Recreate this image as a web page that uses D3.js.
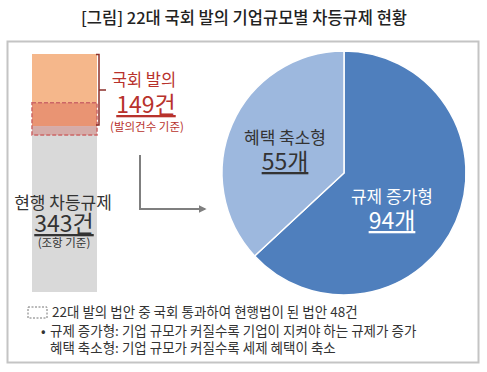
<!DOCTYPE html>
<html>
<head>
<meta charset="utf-8">
<script src="https://cdn.jsdelivr.net/npm/d3@7"></script>
<style>
  body { margin: 0; background: #fff; }
  text { font-family: "Noto Sans CJK KR", "Noto Sans", sans-serif; }
</style>
</head>
<body>
<script>
const m = { width: 487, height: 372 }

// data
const titleText = '[그림] 22대 국회 발의 기업규모별 차등규제 현황'
const barLabels = ['국회 발의', '현행 차등규제']
const barValues = [149, 343]
const barUnits = ['(발의건수 기준)', '(조항 기준)']
const passedValue = 48
const pieCategories = ['규제 증가형', '혜택 축소형']
const pieValues = [94, 55]
const notes = [
  '22대 발의 법안 중 국회 통과하여 현행법이 된 법안 48건',
  '규제 증가형: 기업 규모가 커질수록 기업이 지켜야 하는 규제가 증가',
  '혜택 축소형: 기업 규모가 커질수록 세제 혜택이 축소'
]

const svg = d3.select('body').append('svg')
  .attr('width', m.width)
  .attr('height', m.height)

// title
svg.append('text')
  .attr('x', 244).attr('y', 24)
  .attr('text-anchor', 'middle')
  .attr('font-size', 16.5)
  .attr('font-weight', 500)
  .attr('fill', '#222')
  .text(titleText)

// frame
svg.append('rect')
  .attr('x', 7.5).attr('y', 41.5)
  .attr('width', 471).attr('height', 321)
  .attr('fill', 'none')
  .attr('stroke', '#c4c4c4')
  .attr('stroke-width', 2)

// stacked bar: proposed on top of current
const total = d3.sum(barValues)
const y = d3.scaleLinear().domain([0, total]).range([54, 292])
const barX = 32, barW = 65
const stack = barValues.map((v, i) => ({ v, y0: d3.sum(barValues.slice(0, i)), y1: d3.sum(barValues.slice(0, i + 1)) }))
const barColors = ['#f5b78b', '#d9d9d9']

svg.selectAll('.bar')
  .data(stack)
  .enter()
  .append('rect')
    .attr('x', barX)
    .attr('y', d => y(d.y0))
    .attr('width', barW)
    .attr('height', d => y(d.y1) - y(d.y0))
    .attr('fill', (d, i) => barColors[i])

// passed bills box
svg.append('rect')
  .attr('x', barX).attr('y', y(barValues[0] - passedValue))
  .attr('width', barW)
  .attr('height', y(barValues[0]) - y(barValues[0] - passedValue) + 9)
  .attr('fill', 'rgba(205,70,60,0.3)')
  .attr('stroke', '#cc6666')
  .attr('stroke-width', 1.5)
  .attr('stroke-dasharray', '4,2')

// bracket for proposed
const bx = 99
svg.append('path')
  .attr('d', `M${bx - 3},${y(0) + 0.5} H${bx} V${y(barValues[0]) - 1} H${bx - 3} M${bx},${(y(0) + y(barValues[0])) / 2} H${bx + 7}`)
  .attr('fill', 'none')
  .attr('stroke', '#8c2f2a')
  .attr('stroke-width', 1.5)

const red = '#b8322c'
svg.append('text').attr('x', 144).attr('y', 86).attr('text-anchor', 'middle')
  .attr('font-size', 16.5).attr('fill', red).text(barLabels[0])
svg.append('text').attr('x', 146).attr('y', 113).attr('text-anchor', 'middle')
  .attr('font-size', 23).attr('fill', red).attr('text-decoration', 'underline')
  .text(barValues[0] + '건')
svg.append('text').attr('x', 147).attr('y', 131).attr('text-anchor', 'middle')
  .attr('font-size', 11.5).attr('fill', red).text(barUnits[0])

const dark = '#333'
svg.append('text').attr('x', 63).attr('y', 209).attr('text-anchor', 'middle')
  .attr('font-size', 17).attr('fill', dark).text(barLabels[1])
svg.append('text').attr('x', 64).attr('y', 232).attr('text-anchor', 'middle')
  .attr('font-size', 23).attr('fill', dark).attr('text-decoration', 'underline')
  .text(barValues[1] + '건')
svg.append('text').attr('x', 64).attr('y', 247).attr('text-anchor', 'middle')
  .attr('font-size', 11.5).attr('fill', dark).text(barUnits[1])

// arrow
svg.append('defs').append('marker')
  .attr('id', 'head')
  .attr('viewBox', '0 0 10 10')
  .attr('refX', 8).attr('refY', 5)
  .attr('markerWidth', 4).attr('markerHeight', 4)
  .attr('orient', 'auto')
  .append('path').attr('d', 'M0,0 L10,5 L0,10 Z').attr('fill', '#7f7f7f')
svg.append('path')
  .attr('d', 'M140,155 V209 H205')
  .attr('fill', 'none')
  .attr('stroke', '#7f7f7f')
  .attr('stroke-width', 2)
  .attr('marker-end', 'url(#head)')

// pie
const cx = 344, cy = 173, r = 122
const pie = d3.pie().sort(null).value(d => d)
const arc = d3.arc().innerRadius(0).outerRadius(r)
const pieColors = ['#4f7fbd', '#9db8de']
const pg = svg.append('g').attr('transform', `translate(${cx},${cy})`)

const slices = pie(pieValues)
pg.selectAll('path')
  .data(slices)
  .enter()
  .append('path')
    .attr('d', arc)
    .attr('fill', (d, i) => pieColors[i])
    .attr('stroke', '#fff')
    .attr('stroke-width', 1.5)

const pieLabelPos = [[48, 30], [-59, -29]]
const pieTextColors = ['#fff', '#333']
slices.forEach((d, i) => {
  const [lx, ly] = pieLabelPos[i]
  pg.append('text').attr('x', lx).attr('y', ly)
    .attr('text-anchor', 'middle').attr('font-size', 17)
    .attr('fill', pieTextColors[i]).text(pieCategories[i])
  pg.append('text').attr('x', lx).attr('y', ly + 26)
    .attr('text-anchor', 'middle').attr('font-size', 23)
    .attr('fill', pieTextColors[i]).attr('text-decoration', 'underline')
    .text(d.value + '개')
})

// notes
svg.append('rect')
  .attr('x', 28).attr('y', 307).attr('width', 19).attr('height', 11)
  .attr('fill', 'none').attr('stroke', '#777').attr('stroke-width', 1)
  .attr('stroke-dasharray', '2,1.5')
svg.append('text').attr('x', 52).attr('y', 317)
  .attr('font-size', 13.5).attr('fill', dark).text(notes[0])
svg.append('text').attr('x', 41).attr('y', 336)
  .attr('font-size', 13.5).attr('fill', dark).text('•')
svg.append('text').attr('x', 50).attr('y', 336)
  .attr('font-size', 13.5).attr('fill', dark).text(notes[1])
svg.append('text').attr('x', 50).attr('y', 353)
  .attr('font-size', 13.5).attr('fill', dark).text(notes[2])
</script>
</body>
</html>
